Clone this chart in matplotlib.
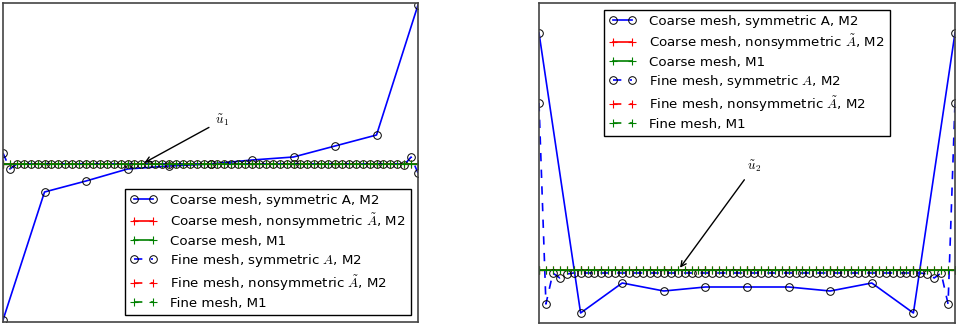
import numpy as np
import matplotlib
matplotlib.use("Agg")
from matplotlib import pyplot as plt

plt.style.use("classic")
plt.rcParams["mathtext.fontset"] = "cm"

# coarse mesh: 11 nodes, fine mesh: 61 nodes on [0, 1]
x_coarse = np.linspace(0.0, 1.0, 11)
x_fine = np.linspace(0.0, 1.0, 61)

# first eigenvector u1
u1_coarse_sym = [-1.56, -0.28, -0.17, -0.05, -0.02, 0.0, 0.04, 0.07, 0.18, 0.29, 1.59]
u1_coarse_nonsym = [0.0] * 11
u1_coarse_m1 = [0.0] * 11
u1_fine_sym = [0.11, -0.05] + [0.0] * 56 + [-0.01, 0.07, -0.09]
u1_fine_nonsym = [0.0] * 61
u1_fine_m1 = [0.0] * 61

# second eigenvector u2
u2_coarse_sym = [2.37, -0.43, -0.13, -0.21, -0.17, -0.17, -0.17, -0.21, -0.13, -0.43, 2.37]
u2_coarse_nonsym = [0.0] * 11
u2_coarse_m1 = [0.0] * 11
u2_fine_sym = ([1.67, -0.34, -0.03, -0.08, -0.04] + [-0.03] * 51
               + [-0.04, -0.08, -0.03, -0.34, 1.67])
u2_fine_nonsym = [0.0] * 61
u2_fine_m1 = [0.0] * 61

labels = ["Coarse mesh, symmetric A, M2",
          r"Coarse mesh, nonsymmetric $\tilde{A}$, M2",
          "Coarse mesh, M1",
          r"Fine mesh, symmetric $A$, M2",
          r"Fine mesh, nonsymmetric $\tilde{A}$, M2",
          "Fine mesh, M1"]


def draw(ax, series, ylim, name, text_xy, tip_xy, loc):
	c_sym, c_ns, c_m1, f_sym, f_ns, f_m1 = series
	circ = dict(marker="o", mfc="none", mec="k", ms=5.5, mew=0.7)
	plus = dict(marker="+", ms=6, mew=0.8)
	ax.plot(x_coarse, c_sym, "b-", lw=1.2, label=labels[0], **circ)
	ax.plot(x_coarse, c_ns, "r-", lw=1.2, mec="r", label=labels[1], **plus)
	ax.plot(x_coarse, c_m1, "g-", lw=1.2, mec="g", label=labels[2], **plus)
	ax.plot(x_fine, f_sym, "b--", lw=1.2, label=labels[3], **circ)
	ax.plot(x_fine, f_ns, "r--", lw=1.2, mec="r", label=labels[4], **plus)
	ax.plot(x_fine, f_m1, "g--", lw=1.2, mec="g", label=labels[5], **plus)
	ax.set_xlim(0, 1)
	ax.set_ylim(*ylim)
	ax.set_xticks([])
	ax.set_yticks([])
	for sp in ax.spines.values():
		sp.set_color("#444444")
		sp.set_linewidth(1.2)
	ax.annotate(name, xy=tip_xy, xytext=text_xy, fontsize=9.5,
		arrowprops=dict(arrowstyle="->", color="k", lw=1))
	ax.legend(loc=loc, fontsize=9.6, numpoints=2, handlelength=2.0,
		labelspacing=0.32, borderaxespad=0.5, handletextpad=1.0)


fig = plt.figure(figsize=(9.57, 3.27), dpi=100, facecolor="white")
ax1 = fig.add_axes([3 / 957, 5 / 327, 415 / 957, 319 / 327])
ax2 = fig.add_axes([539 / 957, 4 / 327, 416 / 957, 320 / 327])

draw(ax1, [u1_coarse_sym, u1_coarse_nonsym, u1_coarse_m1,
		u1_fine_sym, u1_fine_nonsym, u1_fine_m1],
	(-1.58, 1.61), r"$\tilde{u}_1$", (0.51, 0.4), (0.335, 0.0), "lower right")
draw(ax2, [u2_coarse_sym, u2_coarse_nonsym, u2_coarse_m1,
		u2_fine_sym, u2_fine_nonsym, u2_fine_m1],
	(-0.53, 2.67), r"$\tilde{u}_2$", (0.5, 1.0), (0.335, 0.0), "upper center")

fig.savefig("out.png", dpi=100, facecolor="white")
